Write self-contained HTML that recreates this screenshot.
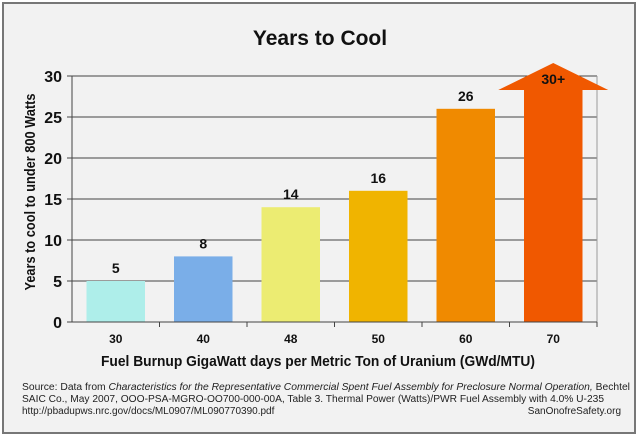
<!DOCTYPE html>
<html><head><meta charset="utf-8"><style>
body{margin:0;width:640px;height:438px;background:#fff;overflow:hidden}
svg{display:block;font-family:"Liberation Sans",Arial,sans-serif}
</style></head><body>
<svg id="c" width="640" height="438">
<rect x="3" y="3" width="632" height="430" fill="#f2f2f2" stroke="#777" stroke-width="2"/>
<text x="320" y="45" text-anchor="middle" font-size="21" font-weight="bold" fill="#111">Years to Cool</text>
<text transform="translate(35,192) rotate(-90)" text-anchor="middle" font-size="14.5" font-weight="bold" fill="#111" textLength="197" lengthAdjust="spacingAndGlyphs">Years to cool to under 800 Watts</text>
<text x="318" y="366" text-anchor="middle" font-size="15" font-weight="bold" fill="#111" textLength="434" lengthAdjust="spacingAndGlyphs">Fuel Burnup GigaWatt days per Metric Ton of Uranium (GWd/MTU)</text>
<g font-size="10" fill="#222">
<text x="22" y="390" textLength="608" lengthAdjust="spacingAndGlyphs">Source: Data from <tspan font-style="italic">Characteristics for the Representative Commercial Spent Fuel Assembly for Preclosure Normal Operation,</tspan> Bechtel</text>
<text x="22" y="402" textLength="582" lengthAdjust="spacingAndGlyphs">SAIC Co., May 2007, OOO-PSA-MGRO-OO700-000-00A, Table 3. Thermal Power (Watts)/PWR Fuel Assembly with 4.0% U-235</text>
<text x="22" y="414">http://pbadupws.nrc.gov/docs/ML0907/ML090770390.pdf</text>
<text x="621" y="414" text-anchor="end">SanOnofreSafety.org</text>
</g>
<g id="plot"></g>
</svg>
<script>
const categories=["30","40","48","50","60","70"];
const values=[5,8,14,16,26,30];
const valueLabels=["5","8","14","16","26","30+"];
const colors=["#aeeeea","#7aaee8","#ecec72","#f0b400","#f08a00","#f05800"];
const yTicks=[0,5,10,15,20,25,30];
const NS="http://www.w3.org/2000/svg";
const L=72,R=597,T=76,B=322,yMax=30;
const y=v=>B-(v/yMax)*(B-T);
const bw=(R-L)/categories.length;
const x=i=>L+i*bw;
const g=document.getElementById('plot');
function mk(t,a){const e=document.createElementNS(NS,t);for(const k in a)e.setAttribute(k,a[k]);g.appendChild(e);return e;}
yTicks.forEach(v=>{
 if(v>0){const l=mk('line',{x1:L,x2:R,y1:y(v),y2:y(v),stroke:'#444','stroke-width':1});
 
 }
 const tk=mk('line',{x1:L-5,x2:L,y1:y(v),y2:y(v),stroke:'#444'});
 
 
 const t=mk('text',{x:L-10,y:y(v)+6,'text-anchor':'end','font-size':16,'font-weight':'bold',fill:'#111'});
 t.textContent=v;
 
 
});
const ax=mk('line',{x1:L,x2:L,y1:T,y2:B,stroke:'#444'});


const rx=mk('line',{x1:R,x2:R,y1:T,y2:B,stroke:'#999'});


categories.forEach((c,i)=>{
 const bx=x(i)+14.5,w=bw-29,v=values[i];
 let m;
 if(i===categories.length-1){
  const hb=y(v)+14,tip=y(v)-13,cx=bx+w/2;
  m=mk('polygon',{points:`${bx},${B} ${bx},${hb} ${cx-55},${hb} ${cx},${tip} ${cx+55},${hb} ${bx+w},${hb} ${bx+w},${B}`,fill:colors[i]});
 } else {
  m=mk('rect',{x:bx,y:y(v),width:w,height:B-y(v),fill:colors[i]});
 }
 
 
 const lt=mk('text',{x:bx+w/2,y:i===categories.length-1?y(v)+8:y(v)-8,'text-anchor':'middle','font-size':14,'font-weight':'bold',fill:'#111'});
 lt.textContent=valueLabels[i];
 
 
 const ct=mk('text',{x:x(i)+bw/2,y:343,'text-anchor':'middle','font-size':12,'font-weight':'bold',fill:'#111'});
 ct.textContent=c;
 
 
 const xt=mk('line',{x1:x(i+1),x2:x(i+1),y1:B,y2:B+5,stroke:'#444'});
 
 
});
const xa=mk('line',{x1:L-5,x2:R,y1:B,y2:B,stroke:'#444'});


</script>
</body></html>
